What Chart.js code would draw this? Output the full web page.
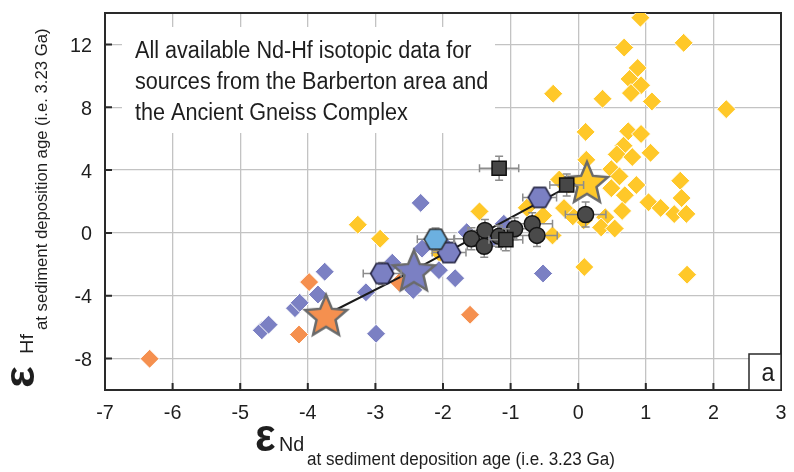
<!DOCTYPE html>
<html>
<head>
<meta charset="utf-8">
<script src="https://cdn.jsdelivr.net/npm/chart.js@4.4.1/dist/chart.umd.min.js"></script>
<style>
  html, body { margin: 0; padding: 0; background: #fff; }
  #wrap { width: 794px; height: 472px; }
</style>
</head>
<body>
<div id="wrap"><canvas id="chart" width="794" height="472"></canvas></div>
<script>
// axis ticks
const xTicks = [-7, -6, -5, -4, -3, -2, -1, 0, 1, 2, 3];
const yTicks = [-8, -4, 0, 4, 8, 12];

// yellow diamonds
const yellowNd = [0.92, 1.56, 0.68, 0.88, 0.76, 0.93, 0.78, -0.37, 0.36, 1.09, 2.19, 0.11, 0.74, 0.93, 0.67, 0.57, 0.80, 1.07, 0.12, 0.49, 0.61, 0.49, 0.86, 0.69, 1.51, 1.53, 1.04, 1.22, 1.42, 1.60, 0.65, 0.40, 0.34, 0.54, 0.08, -0.08, -0.21, -0.28, -0.14, -0.38, -0.52, -0.76, -1.46, 0.09, 1.61, -3.26, -2.93, -2.05];
const yellowHf = [13.7, 12.1, 11.8, 10.5, 9.8, 9.4, 8.9, 8.86, 8.54, 8.37, 7.88, 6.43, 6.47, 6.3, 5.55, 5.0, 4.83, 5.1, 4.65, 4.06, 3.6, 2.85, 3.05, 2.4, 3.32, 2.22, 1.95, 1.59, 1.2, 1.21, 1.4, 1.0, 0.35, 0.28, 0.8, 1.06, 1.58, 3.4, 3.1, -0.16, 1.1, 1.6, 1.37, -2.17, -2.66, 0.52, -0.37, -1.3];

// blue diamonds
const blueNd = [-4.68, -4.58, -4.19, -4.12, -3.85, -3.75, -3.14, -2.99, -2.44, -2.75, -2.33, -2.31, -2.06, -1.82, -0.52, -1.65, -1.10, -1.95, -1.30];
const blueHf = [-6.2, -5.84, -4.79, -4.45, -3.92, -2.47, -3.78, -6.42, -3.63, -1.9, 1.91, -1.0, -2.37, -2.88, -2.58, 0.05, 0.58, -0.9, -0.5];

// orange diamonds
const orangeNd = [-6.34, -4.13, -3.98, -2.65, -1.60];
const orangeHf = [-8.01, -6.47, -3.13, -3.15, -5.21];

// black squares (with 2 sigma)
const squareNd = [-1.17, -0.17, -1.07];
const squareHf = [4.12, 3.05, -0.43];
const squareErrNd = [0.29, 0.25, 0.25];
const squareErrHf = [0.76, 0.7, 0.7];

// dark circles
const circleNd = [0.11, -1.58, -1.38, -1.39, -1.17, -0.94, -0.68, -0.61];
const circleHf = [1.17, -0.37, 0.16, -0.85, -0.22, 0.26, 0.58, -0.16];
const circleErrNd = [0.3, 0.25, 0.25, 0.25, 0.25, 0.25, 0.3, 0.3];
const circleErrHf = [0.8, 0.7, 0.7, 0.7, 0.7, 0.7, 0.7, 0.7];

// hexagons
const hexNd = [-2.90, -1.91, -0.57];
const hexHf = [-2.58, -1.25, 2.26];
const hexErrNd = [0.28, 0.25, 0.25];
const hexErrHf = [0.7, 0.6, 0.6];
const lightHexNd = [-2.11];
const lightHexHf = [-0.40];
const lightHexErrNd = [0.27];
const lightHexErrHf = [0.72];

// end-member stars and mixing line
const starNd = [-3.73, -2.43, 0.13];
const starHf = [-5.21, -2.37, 3.25];
const mixNd = [-3.73, -2.43, -0.15];
const mixHf = [-5.21, -2.37, 2.95];

const YELLOW = '#ffc829';
const BLUE = '#7b80c3';
const ORANGE = '#f5904f';
const LIGHTBLUE = '#6cb0e0';
const TXT = '#1e1e1e';
const FONT = '"Liberation Sans", Arial, sans-serif';
const SQ = 0.94; // the source figure is slightly squeezed sideways

function pts(xs, ys) { return xs.map((x, i) => ({ x: x, y: ys[i] })); }

// text with a squeeze factor (sx along screen x, sy along screen y of the local frame)
function txt(ctx, text, x, y, size, o) {
  o = o || {};
  ctx.save();
  ctx.textAlign = o.align || 'left';
  ctx.textBaseline = 'alphabetic';
  ctx.fillStyle = TXT;
  ctx.font = (o.weight ? o.weight + ' ' : '') + size + 'px ' + FONT;
  ctx.translate(x, y);
  ctx.scale(o.sx || 1, o.sy || 1);
  ctx.fillText(text, 0, 0);
  ctx.restore();
}

function starImage(fill) {
  const R = 22, r = 10, size = 50;
  const c = document.createElement('canvas');
  c.width = size; c.height = size;
  const g = c.getContext('2d');
  g.translate(size / 2, size / 2 + 2);
  g.beginPath();
  for (let i = 0; i < 10; i++) {
    const rad = i % 2 === 0 ? R : r;
    const a = -Math.PI / 2 + i * Math.PI / 5;
    g.lineTo(rad * Math.cos(a), rad * Math.sin(a));
  }
  g.closePath();
  g.fillStyle = fill;
  g.fill();
  g.lineWidth = 2.5;
  g.strokeStyle = '#6a6a6a';
  g.stroke();
  return c;
}

function hexImage(fill, stroke) {
  const R = 11.5, size = 28;
  const c = document.createElement('canvas');
  c.width = size; c.height = size;
  const g = c.getContext('2d');
  g.translate(size / 2, size / 2);
  g.beginPath();
  for (let i = 0; i < 6; i++) {
    const a = i * Math.PI / 3;
    g.lineTo(R * Math.cos(a), R * Math.sin(a));
  }
  g.closePath();
  g.fillStyle = fill;
  g.fill();
  g.lineWidth = 1.5;
  g.strokeStyle = stroke;
  g.stroke();
  return c;
}

const errorBars = {
  id: 'errorBars',
  beforeDatasetDraw(chart, args) {
    const ds = chart.data.datasets[args.index];
    if (!ds.errNd) return;
    const xs = chart.scales.x, ys = chart.scales.y, ctx = chart.ctx;
    ctx.save();
    ctx.strokeStyle = '#8c8c8c';
    ctx.lineWidth = 1.5;
    ds.data.forEach((p, i) => {
      const px = xs.getPixelForValue(p.x), py = ys.getPixelForValue(p.y);
      const x0 = xs.getPixelForValue(p.x - ds.errNd[i]), x1 = xs.getPixelForValue(p.x + ds.errNd[i]);
      const y0 = ys.getPixelForValue(p.y - ds.errHf[i]), y1 = ys.getPixelForValue(p.y + ds.errHf[i]);
      ctx.beginPath();
      ctx.moveTo(x0, py); ctx.lineTo(x1, py);
      ctx.moveTo(x0, py - 4); ctx.lineTo(x0, py + 4);
      ctx.moveTo(x1, py - 4); ctx.lineTo(x1, py + 4);
      ctx.moveTo(px, y0); ctx.lineTo(px, y1);
      ctx.moveTo(px - 4, y0); ctx.lineTo(px + 4, y0);
      ctx.moveTo(px - 4, y1); ctx.lineTo(px + 4, y1);
      ctx.stroke();
    });
    ctx.restore();
  }
};

const decor = {
  id: 'decor',
  beforeDatasetsDraw(chart) {
    const ctx = chart.ctx, a = chart.chartArea;
    const xs = chart.scales.x, ys = chart.scales.y;
    // note box
    ctx.save();
    ctx.fillStyle = '#fff';
    ctx.fillRect(122, 27, 373, 106);
    ctx.restore();
    txt(ctx, 'All available Nd-Hf isotopic data for', 135, 58, 23, { sx: SQ });
    txt(ctx, 'sources from the Barberton area and', 135, 89, 23, { sx: SQ });
    txt(ctx, 'the Ancient Gneiss Complex', 135, 120, 23, { sx: SQ });
    // frame + inward ticks
    ctx.save();
    ctx.strokeStyle = '#2a2a2a';
    ctx.lineWidth = 2;
    ctx.strokeRect(a.left, a.top, a.right - a.left, a.bottom - a.top);
    ctx.beginPath();
    xTicks.forEach(v => {
      const px = xs.getPixelForValue(v);
      ctx.moveTo(px, a.bottom); ctx.lineTo(px, a.bottom - 7);
    });
    yTicks.forEach(v => {
      const py = ys.getPixelForValue(v);
      ctx.moveTo(a.left, py); ctx.lineTo(a.left + 7, py);
    });
    ctx.stroke();
    ctx.restore();
  },
  afterDraw(chart) {
    const ctx = chart.ctx, a = chart.chartArea;
    const xs = chart.scales.x, ys = chart.scales.y;
    xTicks.forEach(v => txt(ctx, String(v), xs.getPixelForValue(v), 419, 21, { align: 'center', sx: SQ }));
    yTicks.forEach(v => txt(ctx, String(v), 92, ys.getPixelForValue(v) + 7.5, 21, { align: 'right', sx: SQ }));

    // x title
    txt(ctx, '\u03b5', 255, 451, 46, { weight: 'bold', sx: SQ });
    txt(ctx, 'Nd', 279, 451, 21, { sx: SQ });
    txt(ctx, 'at sediment deposition age (i.e. 3.23 Ga)', 307, 465, 18, { sx: 0.947 });

    // y title (rotated; squeeze acts across the text)
    ctx.save();
    ctx.translate(34, 388);
    ctx.rotate(-Math.PI / 2);
    txt(ctx, '\u03b5', 0, 0, 46, { weight: 'bold', sy: SQ });
    txt(ctx, 'Hf', 34, -1, 20, { sy: SQ });
    txt(ctx, 'at sediment deposition age (i.e. 3.23 Ga)', 58, 13, 16.7, { sy: SQ });
    ctx.restore();

    // panel letter
    ctx.save();
    ctx.fillStyle = '#fff';
    ctx.fillRect(749, 354, a.right - 749, a.bottom - 354);
    ctx.strokeStyle = '#2a2a2a';
    ctx.lineWidth = 1.5;
    ctx.strokeRect(749, 354, a.right - 749, a.bottom - 354);
    ctx.restore();
    txt(ctx, 'a', 768, 381, 25, { align: 'center', sx: SQ });
  }
};

const diamond = (color) => ({
  pointStyle: 'rectRot', pointRadius: 9.5, pointHoverRadius: 9.5,
  backgroundColor: color, borderColor: '#ffffff', borderWidth: 1
});

new Chart(document.getElementById('chart'), {
  type: 'scatter',
  data: {
    datasets: [
      Object.assign({ label: 'Yellow', data: pts(yellowNd, yellowHf), order: 9 }, diamond(YELLOW)),
      Object.assign({ label: 'Blue', data: pts(blueNd, blueHf), order: 8 }, diamond(BLUE)),
      Object.assign({ label: 'Orange', data: pts(orangeNd, orangeHf), order: 7 }, diamond(ORANGE)),
      {
        label: 'Mixing', data: pts(mixNd, mixHf), order: 6, showLine: true,
        borderColor: '#1a1a1a', borderWidth: 2, pointRadius: 0, tension: 0
      },
      {
        label: 'End-members', data: pts(starNd, starHf), order: 5,
        pointStyle: [starImage(ORANGE), starImage(BLUE), starImage(YELLOW)],
        pointRadius: 12
      },
      {
        label: 'Hexagons', data: pts(hexNd, hexHf), order: 4,
        errNd: hexErrNd, errHf: hexErrHf,
        pointStyle: hexImage(BLUE, '#1c1c3a'), pointRadius: 11
      },
      {
        label: 'Light hexagon', data: pts(lightHexNd, lightHexHf), order: 3,
        errNd: lightHexErrNd, errHf: lightHexErrHf,
        pointStyle: hexImage(LIGHTBLUE, '#2a2a2a'), pointRadius: 11
      },
      {
        label: 'Circles', data: pts(circleNd, circleHf), order: 2,
        errNd: circleErrNd, errHf: circleErrHf,
        pointStyle: 'circle', pointRadius: 8, backgroundColor: '#4a4a4a',
        borderColor: '#141414', borderWidth: 1.5
      },
      {
        label: 'Squares', data: pts(squareNd, squareHf), order: 1,
        errNd: squareErrNd, errHf: squareErrHf,
        pointStyle: 'rect', pointRadius: 10, backgroundColor: '#474747',
        borderColor: '#111111', borderWidth: 1.5
      }
    ]
  },
  options: {
    responsive: false,
    animation: false,
    devicePixelRatio: 1,
    layout: { padding: { top: 10, right: 7, left: 0, bottom: 0 } },
    plugins: { legend: { display: false }, tooltip: { enabled: false } },
    scales: {
      x: {
        type: 'linear', min: -7, max: 3,
        afterBuildTicks: (s) => { s.ticks = xTicks.map(v => ({ value: v })); },
        afterFit: (s) => { s.height = 82; },
        ticks: { display: false },
        border: { display: false },
        grid: { color: '#c3c3c3', lineWidth: 1.3, drawTicks: false }
      },
      y: {
        type: 'linear', min: -10, max: 14,
        afterBuildTicks: (s) => { s.ticks = yTicks.map(v => ({ value: v })); },
        afterFit: (s) => { s.width = 105; },
        ticks: { display: false },
        border: { display: false },
        grid: { color: '#c3c3c3', lineWidth: 1.3, drawTicks: false }
      }
    }
  },
  plugins: [errorBars, decor]
});
</script>
</body>
</html>
